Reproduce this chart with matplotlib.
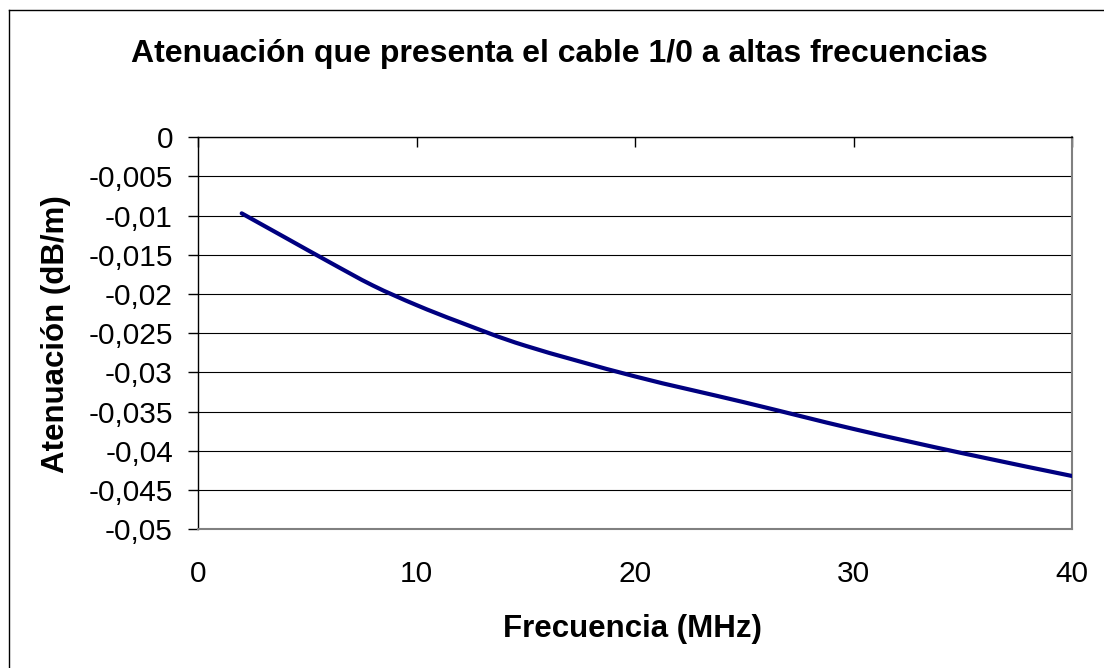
import matplotlib
matplotlib.use("Agg")
import matplotlib.pyplot as plt
from matplotlib.path import Path
from matplotlib.patches import PathPatch
from matplotlib.lines import Line2D

# Cable 1/0 attenuation versus frequency
freq_mhz = [2, 4, 6, 8, 10, 12, 15, 20, 25, 30, 35, 40]
attenuation_db_m = [-0.0097, -0.0128, -0.0159, -0.0189, -0.0214, -0.0236,
                    -0.0266, -0.0305, -0.0338, -0.0372, -0.0403, -0.0432]

x_ticks = [0, 10, 20, 30, 40]
x_tick_labels = ["0", "10", "20", "30", "40"]
y_ticks = [0, -0.005, -0.01, -0.015, -0.02, -0.025, -0.03, -0.035, -0.04, -0.045, -0.05]
y_tick_labels = ["0", "-0,005", "-0,01", "-0,015", "-0,02", "-0,025", "-0,03",
                 "-0,035", "-0,04", "-0,045", "-0,05"]

title = "Atenuación que presenta el cable 1/0 a altas frecuencias"
x_label = "Frecuencia (MHz)"
y_label = "Atenuación (dB/m)"

plt.rcParams["font.family"] = ["Liberation Sans", "DejaVu Sans"]

W, H = 1104, 668
fig = plt.figure(figsize=(W / 100, H / 100), dpi=100)
fig.patch.set_facecolor("white")

left, right, top, bottom = 198, 1072, 137.3, 529.3
ax = fig.add_axes([left / W, 1 - bottom / H, (right - left) / W, (bottom - top) / H])
ax.set_xlim(0, 40)
ax.set_ylim(-0.05, 0)

# Smoothed curve (cubic Bezier through the data points)
pts = list(zip(freq_mhz, attenuation_db_m))
n = len(pts)
verts = [pts[0]]
codes = [Path.MOVETO]
for i in range(n - 1):
    p0 = pts[i - 1] if i > 0 else pts[i]
    p1 = pts[i]
    p2 = pts[i + 1]
    p3 = pts[i + 2] if i + 2 < n else pts[i + 1]
    c1 = (p1[0] + (p2[0] - p0[0]) / 6, p1[1] + (p2[1] - p0[1]) / 6)
    c2 = (p2[0] - (p3[0] - p1[0]) / 6, p2[1] - (p3[1] - p1[1]) / 6)
    verts += [c1, c2, p2]
    codes += [Path.CURVE4] * 3
curve = PathPatch(Path(verts, codes), facecolor="none", edgecolor="#000080",
                  lw=3, capstyle="round", joinstyle="round", zorder=3)
ax.add_patch(curve)

# Axes styling
ax.set_yticks(y_ticks)
ax.set_yticklabels(y_tick_labels)
ax.set_xticks(x_ticks)
ax.set_xticklabels(x_tick_labels)
ax.yaxis.grid(True, color="black", lw=0.8)
ax.set_axisbelow(True)

ax.tick_params(axis="y", left=True, right=False, direction="out", length=7.2,
               width=1, pad=10.8, labelsize=21.5, colors="black")
ax.tick_params(axis="x", bottom=False, top=True, labelbottom=True, labeltop=False,
               direction="in", length=7.2, width=1, pad=22, labelsize=21.5)

ax.spines["left"].set_color("black")
ax.spines["left"].set_linewidth(1)
ax.spines["top"].set_color("black")
ax.spines["top"].set_linewidth(1)
ax.spines["right"].set_color("#808080")
ax.spines["right"].set_linewidth(1.5)
ax.spines["bottom"].set_color("#808080")
ax.spines["bottom"].set_linewidth(1.5)

# Titles
fig.text(559.5 / W, 1 - 61.7 / H, title, ha="center", va="baseline",
         fontsize=23, fontweight="bold")
fig.text(632 / W, 1 - 636.7 / H, x_label, ha="center", va="baseline",
         fontsize=22.5, fontweight="bold")
fig.text(56 / W, 1 - 334 / H, y_label, ha="center", va="center",
         rotation=90, fontsize=22.5, fontweight="bold")

# Chart area border
fig.add_artist(Line2D([8.5 / W, 8.5 / W], [1 - 9.5 / H, -0.01], color="black",
                      lw=1, transform=fig.transFigure))
fig.add_artist(Line2D([8.5 / W, 1.01], [1 - 9.5 / H, 1 - 9.5 / H], color="black",
                      lw=1, transform=fig.transFigure))

fig.savefig("out.png", dpi=100)
